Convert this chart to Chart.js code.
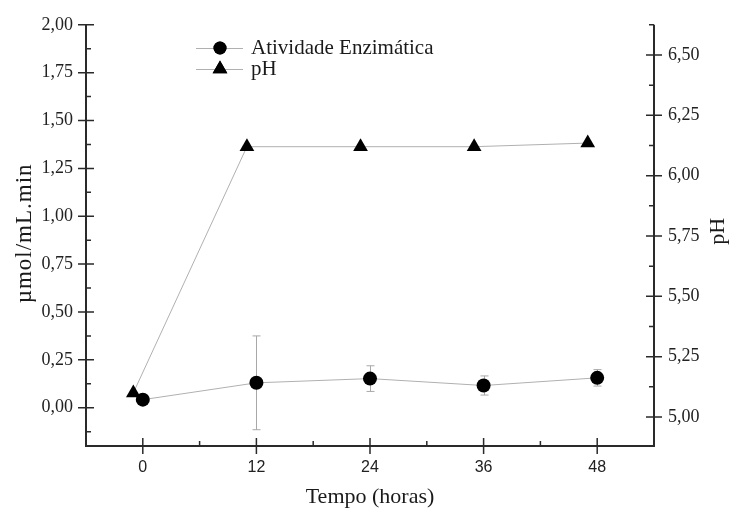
<!DOCTYPE html>
<html>
<head>
<meta charset="utf-8">
<script src="https://cdn.jsdelivr.net/npm/chart.js@4.4.0/dist/chart.umd.min.js"></script>
<style>
  html, body { margin: 0; padding: 0; background: #fff; }
</style>
</head>
<body>
<canvas id="grafico" width="731" height="508"></canvas>
<script>
// dados
const horas = [0, 12, 24, 36, 48];
const atividade = [0.042, 0.13, 0.152, 0.116, 0.156];
const atividadeErro = [0, 0.245, 0.067, 0.05, 0.043];
const horasPH = [-1, 11, 23, 35, 47];
const ph = [5.10, 6.12, 6.12, 6.12, 6.135];

const ticksX = [0, 12, 24, 36, 48];
const ticksEsq = [0, 0.25, 0.5, 0.75, 1, 1.25, 1.5, 1.75, 2];
const ticksDir = [5, 5.25, 5.5, 5.75, 6, 6.25, 6.5];

const corLinha = '#b0b0b0';
const corEixo = '#2a2a2a';
const serif = '"Liberation Serif", "Times New Roman", serif';

function virgula(v) {
    return v.toFixed(2).replace('.', ',');
}

// eixos com marcas cruzadas, barras de erro, títulos e legenda
const eixos = {
    id: 'eixos',
    beforeDatasetsDraw(chart) {
        const ctx = chart.ctx;
        const sx = chart.scales.x, sy = chart.scales.y;
        ctx.save();
        ctx.strokeStyle = '#a8a8a8';
        ctx.lineWidth = 1;
        for (var i = 0; i < horas.length; i++) {
            if (!atividadeErro[i]) continue;
            var x = Math.round(sx.getPixelForValue(horas[i])) + 0.5;
            var y1 = sy.getPixelForValue(atividade[i] + atividadeErro[i]);
            var y2 = sy.getPixelForValue(atividade[i] - atividadeErro[i]);
            ctx.beginPath();
            ctx.moveTo(x, y1); ctx.lineTo(x, y2);
            ctx.moveTo(x - 4, y1); ctx.lineTo(x + 4, y1);
            ctx.moveTo(x - 4, y2); ctx.lineTo(x + 4, y2);
            ctx.stroke();
        }
        ctx.restore();
    },
    afterDraw(chart) {
        const ctx = chart.ctx, a = chart.chartArea;
        const sx = chart.scales.x, sy = chart.scales.y, sy1 = chart.scales.y1;
        ctx.save();
        ctx.strokeStyle = corEixo;
        ctx.lineWidth = 2;
        ctx.beginPath();
        ctx.moveTo(a.left, a.top); ctx.lineTo(a.left, a.bottom);
        ctx.lineTo(a.right, a.bottom); ctx.lineTo(a.right, a.top);
        ctx.stroke();

        ctx.lineWidth = 1.5;
        ctx.beginPath();
        // esquerda
        ticksEsq.forEach(function (v, i) {
            var y = sy.getPixelForValue(v);
            ctx.moveTo(a.left - 8, y); ctx.lineTo(a.left + 8, y);
        });
        for (var v = ticksEsq[0] - 0.125; v <= sy.max; v += 0.25) {
            if (v < sy.min) continue;
            var y = sy.getPixelForValue(v);
            ctx.moveTo(a.left, y); ctx.lineTo(a.left + 5, y);
        }
        // direita
        ticksDir.forEach(function (v) {
            var y = sy1.getPixelForValue(v);
            ctx.moveTo(a.right - 8, y); ctx.lineTo(a.right + 8, y);
        });
        for (var v = ticksDir[0] - 0.125; v <= sy1.max; v += 0.25) {
            if (v < sy1.min) continue;
            var y = sy1.getPixelForValue(v);
            ctx.moveTo(a.right - 5, y); ctx.lineTo(a.right, y);
        }
        // inferior
        ticksX.forEach(function (v) {
            var x = sx.getPixelForValue(v);
            ctx.moveTo(x, a.bottom - 8); ctx.lineTo(x, a.bottom + 8);
        });
        for (var v = ticksX[0] + 6; v < ticksX[ticksX.length - 1]; v += 12) {
            var x = sx.getPixelForValue(v);
            ctx.moveTo(x, a.bottom - 5); ctx.lineTo(x, a.bottom);
        }
        ctx.stroke();

        // títulos
        ctx.fillStyle = '#1a1a1a';
        ctx.font = '22px ' + serif;
        ctx.textAlign = 'center';
        ctx.textBaseline = 'middle';
        ctx.fillText('Tempo (horas)', (a.left + a.right) / 2, 497);
        var meio = (a.top + a.bottom) / 2;
        ctx.save();
        ctx.translate(25, meio - 2);
        ctx.rotate(-Math.PI / 2);
        ctx.font = '23px ' + serif;
        ctx.letterSpacing = '1px';
        ctx.fillText('µmol/mL.min', 0, 0);
        ctx.restore();
        ctx.save();
        ctx.translate(718, meio - 4);
        ctx.rotate(-Math.PI / 2);
        ctx.fillText('pH', 0, 0);
        ctx.restore();

        // legenda
        ctx.font = '21px ' + serif;
        var itens = [
            { texto: 'Atividade Enzimática', y: 48, forma: 'circle', r: 6.5 },
            { texto: 'pH', y: 69, forma: 'triangle', r: 8.5 }
        ];
        itens.forEach(function (it) {
            ctx.strokeStyle = corLinha;
            ctx.lineWidth = 1;
            ctx.beginPath();
            ctx.moveTo(196, it.y + 0.5); ctx.lineTo(243, it.y + 0.5);
            ctx.stroke();
            ctx.fillStyle = '#000';
            Chart.helpers.drawPoint(ctx, { pointStyle: it.forma, radius: it.r, borderWidth: 0 }, 220, it.y);
            ctx.fill();
            ctx.fillStyle = '#1a1a1a';
            ctx.textAlign = 'left';
            ctx.fillText(it.texto, 251, it.y);
        });
        ctx.restore();
    }
};

const config = {
    type: 'line',
    data: {
        datasets: [{
            label: 'Atividade Enzimática',
            data: horas.map(function (h, i) { return { x: h, y: atividade[i] }; }),
            yAxisID: 'y',
            borderColor: corLinha,
            borderWidth: 1,
            pointStyle: 'circle',
            pointRadius: 7,
            pointBackgroundColor: '#000',
            pointBorderColor: '#000',
            pointBorderWidth: 0
        }, {
            label: 'pH',
            data: horasPH.map(function (h, i) { return { x: h, y: ph[i] }; }),
            yAxisID: 'y1',
            borderColor: corLinha,
            borderWidth: 1,
            pointStyle: 'triangle',
            pointRadius: 8.5,
            pointBackgroundColor: '#000',
            pointBorderColor: '#000',
            pointBorderWidth: 0
        }]
    },
    options: {
        responsive: false,
        animation: false,
        layout: { padding: { top: 23 } },
        plugins: {
            legend: { display: false },
            tooltip: { enabled: false }
        },
        scales: {
            x: {
                type: 'linear',
                min: -6,
                max: 54,
                grid: { display: false, drawTicks: false },
                border: { display: false },
                afterBuildTicks: function (s) { s.ticks = ticksX.map(function (v) { return { value: v }; }); },
                afterFit: function (s) { s.height = 62; },
                ticks: {
                    padding: 12,
                    color: '#222',
                    font: { family: '"Liberation Sans", Arial, sans-serif', size: 16 },
                    callback: function (v) { return String(v); }
                }
            },
            y: {
                position: 'left',
                min: -0.2,
                max: 2.0,
                grid: { display: false, drawTicks: false },
                border: { display: false },
                afterBuildTicks: function (s) { s.ticks = ticksEsq.map(function (v) { return { value: v }; }); },
                afterFit: function (s) { s.width = 86; },
                ticks: {
                    padding: 13,
                    color: '#222',
                    font: { family: serif, size: 18 },
                    callback: function (v) { return virgula(v); }
                }
            },
            y1: {
                position: 'right',
                min: 4.88,
                max: 6.625,
                grid: { display: false, drawTicks: false },
                border: { display: false },
                afterBuildTicks: function (s) { s.ticks = ticksDir.map(function (v) { return { value: v }; }); },
                afterFit: function (s) { s.width = 77; },
                ticks: {
                    padding: 14,
                    color: '#222',
                    font: { family: serif, size: 18 },
                    callback: function (v) { return virgula(v); }
                }
            }
        }
    },
    plugins: [eixos]
};

const grafico = new Chart(document.getElementById('grafico'), config);
</script>
</body>
</html>
